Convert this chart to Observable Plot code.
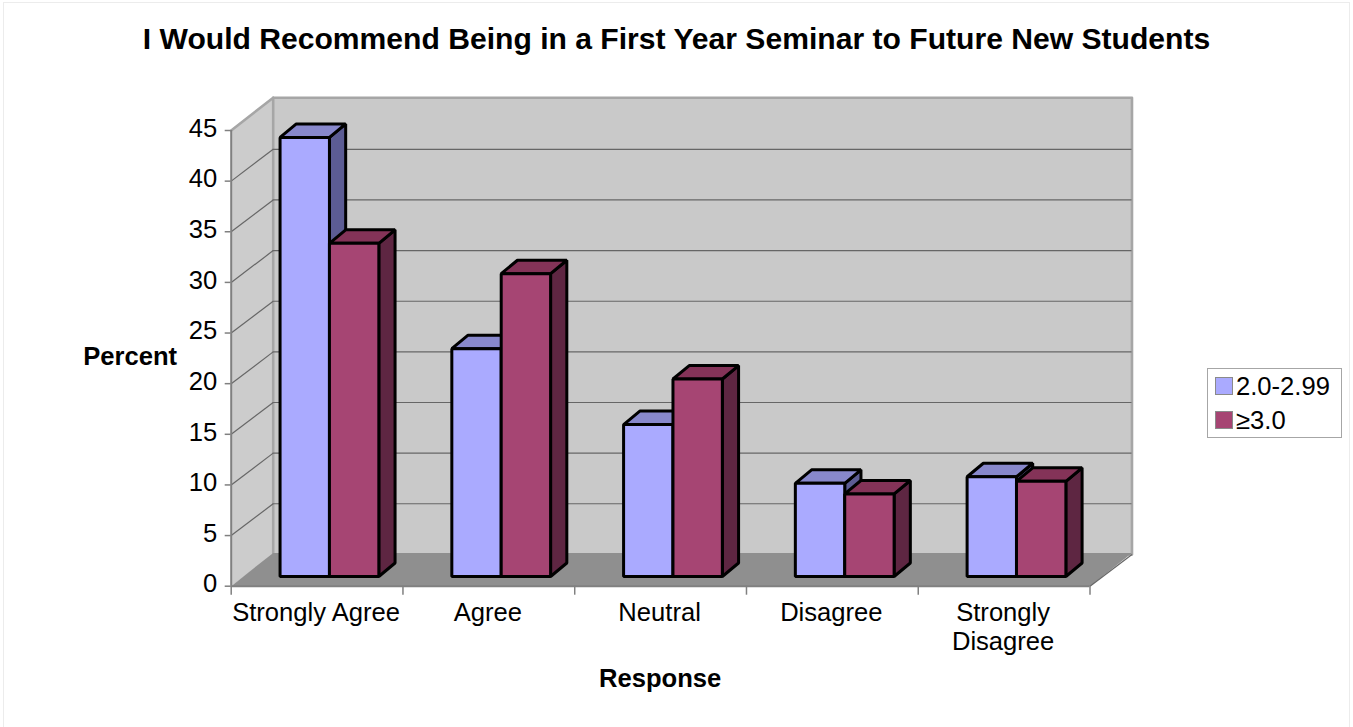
<!DOCTYPE html>
<html>
<head>
<meta charset="utf-8">
<script src="https://cdn.jsdelivr.net/npm/d3@7"></script>
<script src="https://cdn.jsdelivr.net/npm/@observablehq/plot@0.6"></script>
<style>
  html, body { margin: 0; padding: 0; background: #fff; }
  body { width: 1353px; height: 727px; position: relative; overflow: hidden; font-family: "Liberation Sans", Arial, sans-serif; }
  #frame { position: absolute; left: 3px; top: 2px; width: 1345px; height: 760px; border: 1.5px solid #ececec; pointer-events: none; }
  #title { height: 78px; line-height: 78px; text-align: center; font-size: 30.1px; font-weight: bold; color: #000; white-space: nowrap; }
  svg { display: block; position: relative; }
  #legend { position: absolute; left: 1207px; top: 368px; width: 133px; height: 68px; border: 1.5px solid #a6a6a6; background: #fff; box-sizing: content-box; font-size: 25.6px; }
  #legend div { position: absolute; left: 7px; height: 34px; line-height: 34px; white-space: nowrap; }
  #legend i { display: inline-block; width: 16px; height: 16px; border: 1px solid #8a8a8a; margin-right: 3px; vertical-align: 0px; }
</style>
</head>
<body>
<div id="frame"></div>
<div id="title"></div>
<div id="chart"></div>
<div id="legend"></div>
<script>
const titleText = "I Would Recommend Being in a First Year Seminar to Future New Students";
const categories = ["Strongly Agree", "Agree", "Neutral", "Disagree", "Strongly\nDisagree"];
const seriesNames = ["2.0-2.99", "≥3.0"];
const lowGpa = [43.36, 22.5, 15.0, 9.2, 9.85];
const highGpa = [32.9, 29.9, 19.5, 8.15, 9.4];
const yTicks = [0, 5, 10, 15, 20, 25, 30, 35, 40, 45];

const palettes = [
  {front: "#aaaaff", top: "#8888cc", side: "#5c5c94"},
  {front: "#a64573", top: "#843358", side: "#5e2642"}
];

// oblique projection, expressed in data units
const DX = 0.2445, DY = 3.14;            // depth of the chart box
const barDX = 0.0945, barDY = 1.33;      // depth of one bar
const baseY = 0.96;                      // bars stand inside the floor
const barStart = 0.2845, barW = 0.2875;

const n = categories.length, yMax = 45;
const poly = (pts) => pts.map(([x, y]) => ({x, y}));

function face(points, options) {
  return Plot.line(points, {x: "x", y: "y", curve: "linear-closed", ...options});
}

const bars = [];
categories.forEach((c, i) => {
  [lowGpa[i], highGpa[i]].forEach((v, s) => {
    const x0 = i + barStart + s * barW, x1 = x0 + barW;
    const y0 = baseY, y1 = baseY + v;
    const p = palettes[s];
    const style = {stroke: "#000", strokeWidth: 3, strokeLinejoin: "miter"};
    bars.push(
      face(poly([[x1, y0], [x1 + barDX, y0 + barDY], [x1 + barDX, y1 + barDY], [x1, y1]]), {fill: p.side, ...style}),
      face(poly([[x0, y1], [x1, y1], [x1 + barDX, y1 + barDY], [x0 + barDX, y1 + barDY]]), {fill: p.top, ...style}),
      face(poly([[x0, y0], [x1, y0], [x1, y1], [x0, y1]]), {fill: p.front, ...style})
    );
  });
});

const gridVals = yTicks.filter(v => v > 0 && v < yMax);
const labelData = categories.map((c, i) => ({x: i + 0.5, label: c}));

const plotEl = Plot.plot({
  width: 1353,
  height: 649,
  marginLeft: 230.7,
  marginRight: 1353 - 1089.5,
  marginTop: 52,
  marginBottom: 141.3,
  style: {background: "transparent", fontFamily: "'Liberation Sans', Arial, sans-serif", color: "#000"},
  x: {type: "linear", domain: [0, n], axis: null},
  y: {type: "linear", domain: [0, yMax], axis: null},
  marks: [
    // left wall, back wall, floor
    face(poly([[0, 0], [DX, DY], [DX, yMax + DY + 0.1], [0, yMax]]), {fill: "#cccccc", stroke: "none"}),
    face(poly([[DX, DY], [n + DX, DY], [n + DX, yMax + DY + 0.1], [DX, yMax + DY + 0.1]]), {fill: "#c9c9c9", stroke: "#a6a6a6", strokeWidth: 2.6}),
    face(poly([[0, yMax], [DX, yMax + DY + 0.1]]), {stroke: "#a6a6a6", strokeWidth: 2.6, curve: "linear"}),
    face(poly([[0, 0], [n, 0], [n + DX, DY + 0.15], [DX, DY + 0.15]]), {fill: "#8f8f8f", stroke: "none"}),
    // gridlines
    Plot.ruleY(gridVals, {y: v => v + DY, x1: DX, x2: n + DX, stroke: "#666", strokeWidth: 1.2}),
    Plot.link(gridVals, {x1: 0, y1: v => v, x2: DX, y2: v => v + DY, stroke: "#666", strokeWidth: 1.2}),
    Plot.link([n], {x1: n, y1: 0, x2: n + DX, y2: DY, stroke: "#666", strokeWidth: 1.2}),
    // axes
    Plot.ruleX([0], {y1: 0, y2: yMax, stroke: "#808080", strokeWidth: 2}),
    Plot.ruleY([0], {x1: 0, x2: n, stroke: "#808080", strokeWidth: 2}),
    Plot.axisY(yTicks, {tickSize: 6, tickFormat: () => "", label: null, stroke: "#808080", strokeWidth: 1.5}),
    Plot.axisY(yTicks, {tickSize: 0, tickPadding: 14, dy: -2, fontSize: 25.6, label: null, fill: "#000", textStroke: "none"}),
    Plot.axisX(d3.range(n + 1), {tickSize: 9, tickFormat: () => "", label: null, stroke: "#808080", strokeWidth: 1.5}),
    // bars
    ...bars,
    // category labels and axis titles
    Plot.text(labelData, {x: "x", y: 0, text: "label", lineAnchor: "top", dx: -1, dy: 14.5, fontSize: 25.6, fill: "#000", lineHeight: 1.13}),
    Plot.text(["Percent"], {frameAnchor: "left", text: d => d, textAnchor: "start", dx: -148, dy: -1.5, fontSize: 25.6, fontWeight: "bold", fill: "#000"}),
    Plot.text(["Response"], {frameAnchor: "bottom", text: d => d, dx: -0.5, dy: 100.5, fontSize: 25.6, fontWeight: "bold", fill: "#000"})
  ]
});

document.getElementById("title").textContent = titleText;
document.getElementById("chart").appendChild(plotEl);

const legendBox = d3.select("#legend");
seriesNames.forEach((name, s) => {
  const row = legendBox.append("div").style("top", (0 + s * 33.5) + "px");
  row.append("i").style("background", palettes[s].front);
  row.append("span").text(name);
});
</script>
</body>
</html>
